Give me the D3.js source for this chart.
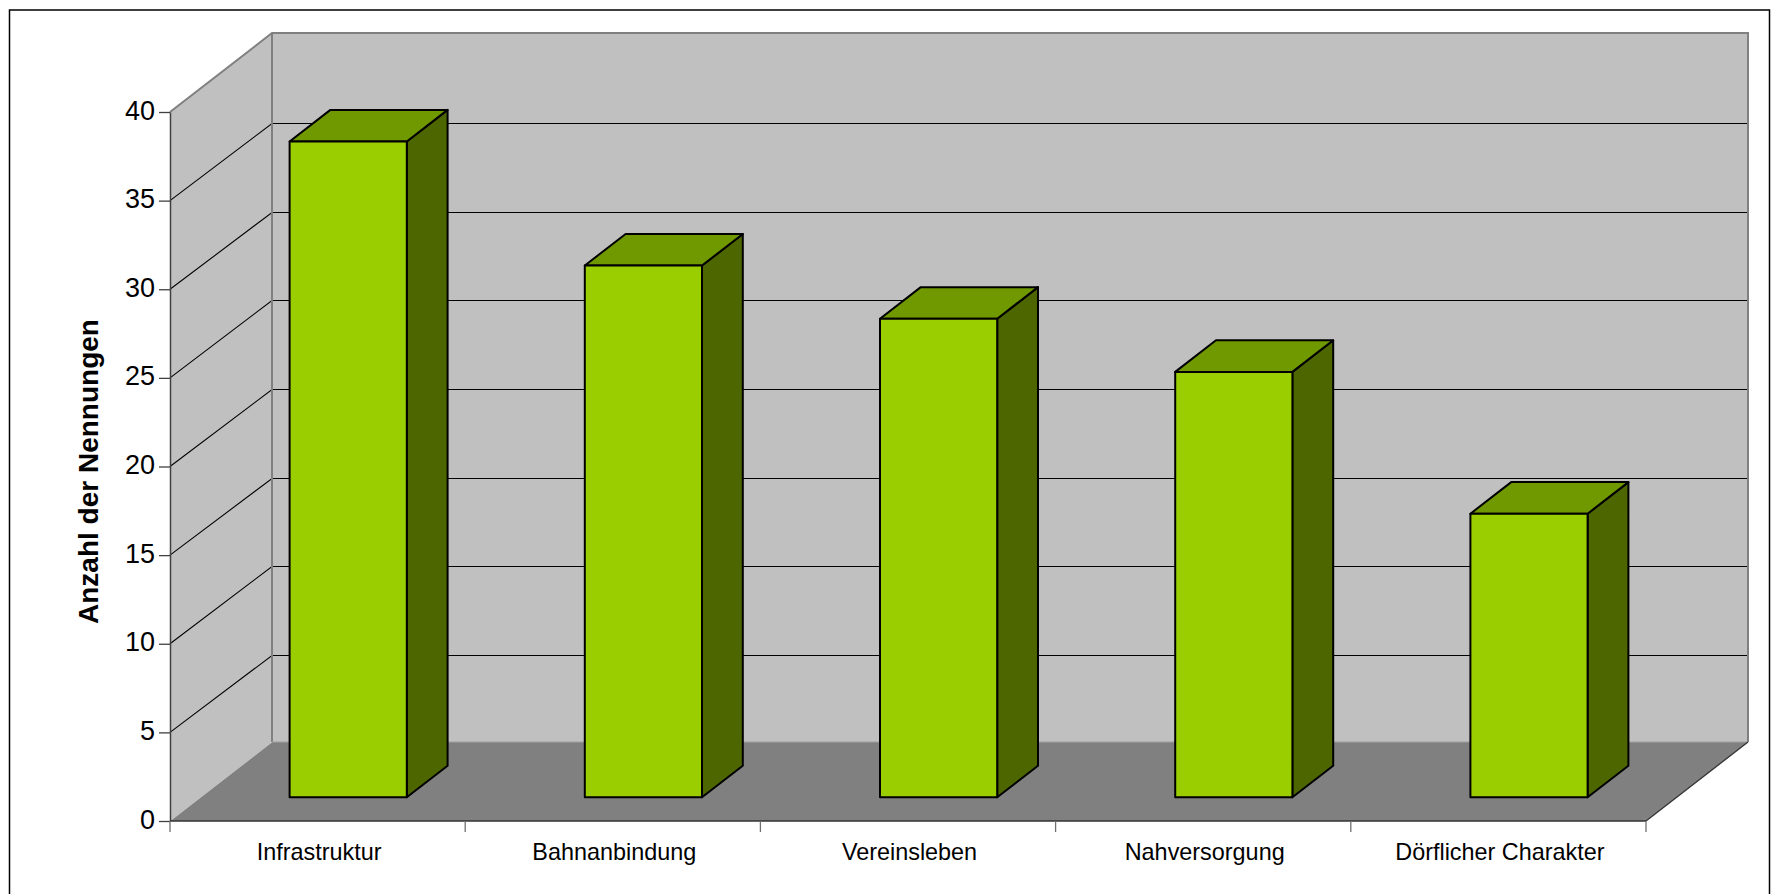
<!DOCTYPE html>
<html>
<head>
<meta charset="utf-8">
<script src="https://cdn.jsdelivr.net/npm/d3@7"></script>
<style>
  html, body { margin: 0; padding: 0; background: #fff; overflow: hidden; }
  svg { display: block; }
  text { font-family: "Liberation Sans", Arial, sans-serif; fill: #000; }
</style>
</head>
<body>
<div id="chart"></div>
<script>
// Chart data
const categories = ['Infrastruktur', 'Bahnanbindung', 'Vereinsleben', 'Nahversorgung', 'Dörflicher Charakter'];
const values = [37, 30, 27, 24, 16];
const yTicks = [0, 5, 10, 15, 20, 25, 30, 35, 40];
const yTitle = 'Anzahl der Nennungen';

const width = 1782, height = 894;

// Front plane of the 3D box, and the shift to its back wall
const plot = { left: 170, right: 1646, top: 112, bottom: 821 };
const depth = { dx: 102, dy: -79 };

const colors = {
    wall: '#c0c0c0', floor: '#808080', edge: '#808080', axis: '#404040',
    barFront: '#9bce00', barTop: '#709900', barSide: '#4d6600'
};

const x = d3.scaleBand().domain(categories).range([plot.left, plot.right]).paddingInner(0).paddingOuter(0);
const y = d3.scaleLinear().domain([0, 40]).range([plot.bottom, plot.top]);

// Projects a chart position (x px, value, depth 0..1) on the screen
const project = (px, value, z) => [px + depth.dx * z, y(value) + depth.dy * z];
const poly = pts => d3.line()(pts) + 'Z';

const svg = d3.select('#chart').append('svg').attr('width', width).attr('height', height);

// Outer frame, runs off the bottom of the picture
svg.append('rect')
    .attr('x', 9.5).attr('y', 10)
    .attr('width', 1760).attr('height', height + 20)
    .attr('fill', '#fff').attr('stroke', '#000').attr('stroke-width', 1.5);

// Walls and floor
const walls = svg.append('g').attr('class', 'walls');
walls.append('path')
    .attr('d', poly([project(plot.left, 0, 0), project(plot.left, 40, 0), project(plot.left, 40, 1), project(plot.left, 0, 1)]))
    .attr('fill', colors.wall);
walls.append('path')
    .attr('d', poly([project(plot.left, 0, 1), project(plot.left, 40, 1), project(plot.right, 40, 1), project(plot.right, 0, 1)]))
    .attr('fill', colors.wall);
walls.append('path')
    .attr('d', poly([project(plot.left, 0, 0), project(plot.right, 0, 0), project(plot.right, 0, 1), project(plot.left, 0, 1)]))
    .attr('fill', colors.floor);

// Gridlines along side wall and back wall, the back part sits a little lower in the original
const gridBackShift = 1.5;
const grid = svg.append('g').attr('class', 'grid')
    .attr('fill', 'none').attr('stroke', '#000').attr('stroke-width', 1.1);
yTicks.filter(d => d > 0 && d < 40).forEach(d => {
    const backLeft = project(plot.left, d, 1);
    const backRight = project(plot.right, d, 1);
    const backY = Math.round(backLeft[1] + gridBackShift) + 0.5;
    grid.append('path').attr('d', d3.line()([project(plot.left, d, 0), [backLeft[0], backY], [backRight[0], backY]]));
});

// Wall edges
const edges = svg.append('g').attr('class', 'edges').attr('fill', 'none').attr('stroke', colors.edge).attr('stroke-width', 2);
edges.append('path').attr('d', d3.line()([project(plot.left, 40, 0), project(plot.left, 40, 1), project(plot.right, 40, 1), project(plot.right, 0, 1)]));
edges.append('path').attr('d', d3.line()([project(plot.left, 0, 1), project(plot.left, 40, 1)]));
edges.append('path').attr('d', d3.line()([project(plot.left, 0, 1), project(plot.right, 0, 1)])).attr('stroke', '#a0a0a0').attr('stroke-width', 1);
edges.append('path')
    .attr('d', d3.line()([project(plot.left, 0, 0), project(plot.left, 0, 1)]))
    .attr('stroke', '#c0c0c0').attr('stroke-width', 1);
edges.append('path')
    .attr('d', d3.line()([project(plot.right, 0, 0), project(plot.right, 0, 1)]))
    .attr('stroke', '#333').attr('stroke-width', 1.3);

// Bars: centred in the depth of the box
const barFrontZ = 0.3, barBackZ = 0.7, barShare = 0.397;
const bars = svg.append('g').attr('class', 'bars')
    .selectAll('g').data(values).enter().append('g')
    .attr('stroke', '#000').attr('stroke-width', 2).attr('stroke-linejoin', 'round');

bars.each(function (d, i) {
    const g = d3.select(this);
    const center = x(categories[i]) + x.bandwidth() / 2;
    const x0 = center - x.bandwidth() * barShare / 2;
    const x1 = center + x.bandwidth() * barShare / 2;
    g.append('path').attr('fill', colors.barSide)
        .attr('d', poly([project(x1, 0, barFrontZ), project(x1, d, barFrontZ), project(x1, d, barBackZ), project(x1, 0, barBackZ)]));
    g.append('path').attr('fill', colors.barTop)
        .attr('d', poly([project(x0, d, barFrontZ), project(x1, d, barFrontZ), project(x1, d, barBackZ), project(x0, d, barBackZ)]));
    g.append('path').attr('fill', colors.barFront)
        .attr('d', poly([project(x0, 0, barFrontZ), project(x1, 0, barFrontZ), project(x1, d, barFrontZ), project(x0, d, barFrontZ)]));
});

// Y axis
const yAxis = svg.append('g').attr('class', 'y-axis').attr('transform', `translate(${plot.left},0)`)
    .call(d3.axisLeft(y).tickValues(yTicks).tickSize(11).tickPadding(4).tickSizeOuter(0));
yAxis.select('.domain').attr('stroke', colors.axis).attr('stroke-width', 1.5);
yAxis.selectAll('.tick line').attr('stroke', colors.axis).attr('stroke-width', 1.3);
yAxis.selectAll('text')
    .attr('font-size', 27).attr('font-family', '"Liberation Sans", Arial, sans-serif')
    .attr('dy', '0.26em');

// X axis: ticks fall between the categories
svg.append('line')
    .attr('x1', plot.left).attr('x2', plot.right).attr('y1', plot.bottom).attr('y2', plot.bottom)
    .attr('stroke', '#333').attr('stroke-width', 1.5);
const xEdges = categories.map(c => x(c)).concat([plot.right]);
svg.append('g').attr('class', 'x-ticks').selectAll('line').data(xEdges).enter().append('line')
    .attr('x1', d => d).attr('x2', d => d).attr('y1', plot.bottom).attr('y2', plot.bottom + 11)
    .attr('stroke', '#707070').attr('stroke-width', 1.3);
svg.append('g').attr('class', 'x-labels').selectAll('text').data(categories).enter().append('text')
    .attr('x', d => x(d) + x.bandwidth() / 2 + 1.5)
    .attr('y', plot.bottom + 39)
    .attr('text-anchor', 'middle').attr('font-size', 23.4)
    .text(d => d);

// Y title
svg.append('text')
    .attr('transform', `translate(98,${y(20) + 5}) rotate(-90)`)
    .attr('text-anchor', 'middle').attr('font-size', 28).attr('font-weight', 'bold')
    .text(yTitle);
</script>
</body>
</html>
